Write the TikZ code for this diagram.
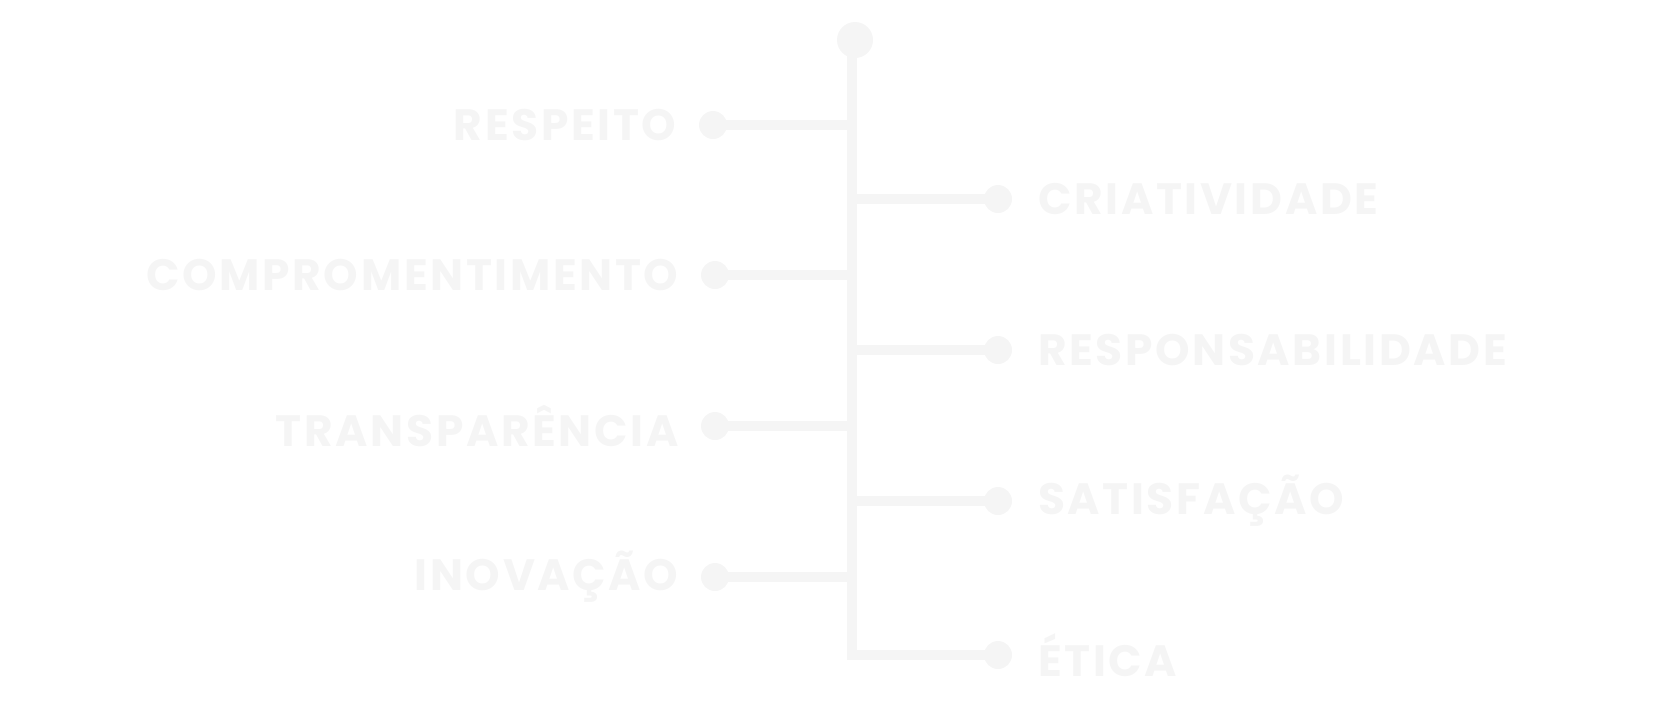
\documentclass[tikz,border=0pt]{standalone}
\usepackage{fontspec}
\setmainfont{Poppins}[LetterSpace=6]
\usetikzlibrary{positioning}
\definecolor{pale}{RGB}{245,245,245}
\tikzset{dot/.style={circle,fill=pale,inner sep=0pt,minimum size=2.8mm},
  lbl/.style={text=pale,font=\bfseries\fontsize{12.5}{14}\selectfont,inner sep=0pt},
  ln/.style={draw=pale,line width=1mm}}
\begin{document}
\begin{tikzpicture}[x=0.1mm,y=-0.1mm]
  \useasboundingbox (0,0) rectangle (1655,703);
  \node (top) [dot,minimum size=3.6mm] at (855,40) {};
  \coordinate (end) at (852,657);
  \draw[ln] (852,40) -- (end);
  % left side
  \node (l1) [dot] at (713,125) {};
  \node (l2) [dot] at (715,275) {};
  \node (l3) [dot] at (715,426) {};
  \node (l4) [dot] at (715,577) {};
  \foreach \n in {l1,l2,l3,l4} \draw[ln] (\n.center) -- (852,0 |- \n.center);
  \node [lbl,left=6pt of l1] {RESPEITO};
  \node [lbl,left=6pt of l2] {COMPROMENTIMENTO};
  \node [lbl,left=6pt of l3] {TRANSPARÊNCIA};
  \node [lbl,left=6pt of l4] {INOVAÇÃO};
  % right side
  \node (r1) [dot] at (998,199) {};
  \node (r2) [dot] at (998,350) {};
  \node (r3) [dot] at (998,501) {};
  \node (r4) [dot] at (998,655) {};
  \foreach \n in {r1,r2,r3} \draw[ln] (852,0 |- \n.center) -- (\n.center);
  \draw[ln] (847,655) -- (r4.center);
  \node [lbl,right=7pt of r1] {CRIATIVIDADE};
  \node [lbl,right=7pt of r2] {RESPONSABILIDADE};
  \node [lbl,right=7pt of r3] {SATISFAÇÃO};
  \node [lbl,right=7pt of r4] {ÉTICA};
\end{tikzpicture}
\end{document}
